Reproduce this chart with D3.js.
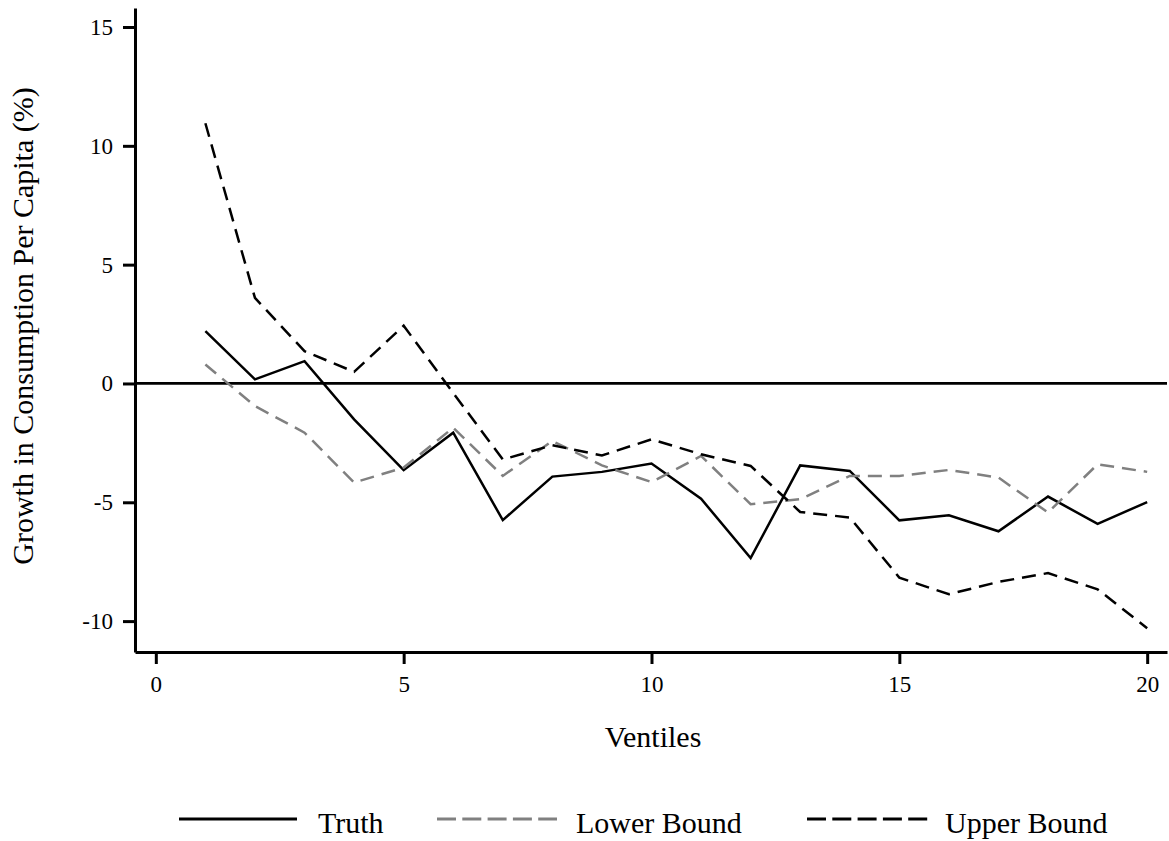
<!DOCTYPE html>
<html>
<head>
<meta charset="utf-8">
<script src="https://cdn.jsdelivr.net/npm/d3@7"></script>
<style>
  body { margin: 0; background: #fff; }
  svg { font-family: 'Liberation Serif', 'Times New Roman', serif; }
</style>
</head>
<body>
<svg id="chart" width="1169" height="841"></svg>
<script>
// ventiles 1..20
const ventiles = d3.range(1, 21)
const truth = [2.2, 0.17, 0.94, -1.51, -3.65, -2.07, -5.75, -3.92, -3.72, -3.37,
               -4.85, -7.35, -3.45, -3.68, -5.76, -5.55, -6.22, -4.76, -5.91, -4.99]
const lowerBound = [0.8, -0.95, -2.07, -4.17, -3.54, -1.86, -3.89, -2.42, -3.45, -4.15,
                    -3.05, -5.08, -4.87, -3.89, -3.89, -3.64, -3.96, -5.43, -3.4, -3.72]
const upperBound = [10.95, 3.6, 1.36, 0.49, 2.43, -0.4, -3.2, -2.6, -3.03, -2.35,
                    -2.98, -3.47, -5.41, -5.64, -8.17, -8.87, -8.35, -7.98, -8.66, -10.3]
const xTicks = [0, 5, 10, 15, 20]
const yTicks = [-10, -5, 0, 5, 10, 15]

const series = [
  { name: 'Truth', values: truth, color: '#000', dash: null },
  { name: 'Lower Bound', values: lowerBound, color: '#808080', dash: '14,8' },
  { name: 'Upper Bound', values: upperBound, color: '#000', dash: '14,8' }
]

const svg = d3.select('#chart')

const x = d3.scaleLinear().domain([-0.42, 20.4]).range([135, 1167])
const y = d3.scaleLinear().domain([-11.3, 15.8]).range([652, 8])

// axes, plain hyphen for negatives like the original
const fmt = d => String(d)
const yAxis = svg.append('g')
  .attr('transform', 'translate(135,0)')
  .call(d3.axisLeft(y).tickValues(yTicks).tickFormat(fmt).tickSize(12).tickSizeOuter(0).tickPadding(10))
const xAxis = svg.append('g')
  .attr('transform', 'translate(0,652)')
  .call(d3.axisBottom(x).tickValues(xTicks).tickFormat(fmt).tickSize(12).tickSizeOuter(0).tickPadding(12))

for (const g of [xAxis, yAxis]) {
  g.select('.domain').attr('stroke', '#000').attr('stroke-width', 3)
  g.selectAll('.tick line').attr('stroke', '#000').attr('stroke-width', 3)
  g.selectAll('.tick text')
    .attr('fill', '#000')
    .style('font-family', "'Liberation Serif', serif")
    .style('font-size', '23px')
}

// zero reference line
svg.append('line')
  .attr('x1', x.range()[0]).attr('x2', x.range()[1])
  .attr('y1', y(0)).attr('y2', y(0))
  .attr('stroke', '#000').attr('stroke-width', 2.7)

// series lines
const line = d3.line()
  .x((d, i) => x(ventiles[i]))
  .y(d => y(d))

svg.append('g').selectAll('path')
  .data(series)
  .join('path')
  .attr('d', d => line(d.values))
  .attr('fill', 'none')
  .attr('stroke', d => d.color)
  .attr('stroke-width', 2.5)
  .attr('stroke-dasharray', d => d.dash)

// axis titles
svg.append('text')
  .attr('x', 653).attr('y', 747)
  .attr('text-anchor', 'middle')
  .style('font-size', '30px')
  .text('Ventiles')

svg.append('text')
  .attr('transform', 'translate(33,326) rotate(-90)')
  .attr('text-anchor', 'middle')
  .style('font-size', '30px')
  .text('Growth in Consumption Per Capita (%)')

// legend
const legendX = [179, 437, 807]
const legend = svg.append('g').selectAll('g')
  .data(series)
  .join('g')
  .attr('transform', (d, i) => `translate(${legendX[i]},819)`)

legend.append('line')
  .attr('x1', 0).attr('x2', (d, i) => [118, 120, 122][i])
  .attr('stroke', d => d.color)
  .attr('stroke-width', 3)
  .attr('stroke-dasharray', d => d.dash ? '19,6.3' : null)

legend.append('text')
  .attr('x', (d, i) => [139, 139, 138][i])
  .attr('y', 14)
  .style('font-size', '30px')
  .text(d => d.name)
</script>
</body>
</html>
